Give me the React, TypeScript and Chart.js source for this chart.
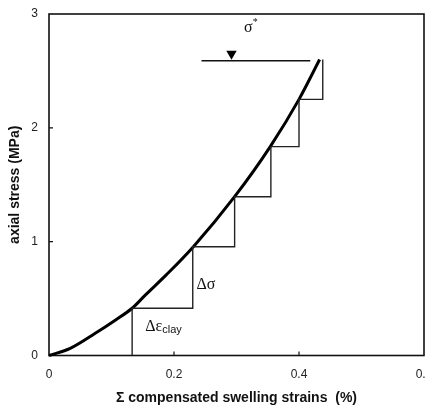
import { useEffect, useRef } from "react";
import { Chart, registerables } from "chart.js";

Chart.register(...registerables);

// Data
const curveStrain = [0, 0.034, 0.074, 0.106, 0.133, 0.154, 0.188, 0.231, 0.297, 0.354, 0.4, 0.433];
const curveStress = [0, 0.063, 0.195, 0.31, 0.415, 0.53, 0.71, 0.956, 1.395, 1.835, 2.25, 2.6];
const stepStrain = [0.133, 0.23, 0.297, 0.355, 0.4, 0.438];
const stepStress = [0.415, 0.956, 1.395, 1.835, 2.25, 2.6];
const sigmaStarStrain = [0.244, 0.418];
const sigmaStarStress = [2.59, 2.59];
const markerStrain = [0.292];
const markerStress = [2.65];
const xTicks = [0, 0.2, 0.4, 0.6];
const yTicks = [0, 1, 2, 3];
const innerXTicks = [0.2, 0.4];
const innerYTicks = [1, 2];

const labelSigmaStar = { x: 0.312, y: 2.88 };
const labelDeltaSigma = { x: 0.236, y: 0.62 };
const labelDeltaEps = { x: 0.154, y: 0.25 };

export default function App() {
  const ref = useRef<HTMLCanvasElement | null>(null);

  useEffect(() => {
    if (!ref.current) return;

    const curve = curveStrain.map((x, i) => ({ x, y: curveStress[i] }));
    const steps: { x: number; y: number }[] = [{ x: stepStrain[0], y: 0 }];
    for (let i = 0; i < stepStrain.length; i++) {
      steps.push({ x: stepStrain[i], y: stepStress[i] });
      if (i + 1 < stepStrain.length) steps.push({ x: stepStrain[i + 1], y: stepStress[i] });
    }
    const sigLine = sigmaStarStrain.map((x, i) => ({ x, y: sigmaStarStress[i] }));
    const marker = markerStrain.map((x, i) => ({ x, y: markerStress[i] }));

    const framePlugin = {
      id: "frame",
      beforeDatasetsDraw(chart: any) {
        const { ctx, chartArea: a, scales } = chart;
        ctx.save();
        ctx.strokeStyle = "#111";
        ctx.lineWidth = 1.6;
        ctx.strokeRect(a.left, a.top, a.right - a.left, a.bottom - a.top);
        ctx.lineWidth = 1.2;
        ctx.beginPath();
        innerXTicks.forEach((v) => {
          const px = scales.x.getPixelForValue(v);
          ctx.moveTo(px, a.bottom);
          ctx.lineTo(px, a.bottom - 4);
        });
        innerYTicks.forEach((v) => {
          const py = scales.y.getPixelForValue(v);
          ctx.moveTo(a.left, py);
          ctx.lineTo(a.left + 4, py);
        });
        ctx.stroke();
        ctx.restore();
      },
      afterDatasetsDraw(chart: any) {
        const { ctx, scales } = chart;
        const px = (v: number) => scales.x.getPixelForValue(v);
        const py = (v: number) => scales.y.getPixelForValue(v);
        ctx.save();
        ctx.fillStyle = "#111";
        ctx.textBaseline = "middle";
        ctx.textAlign = "left";
        // sigma*
        ctx.font = "16px 'Liberation Serif'";
        const sx = px(labelSigmaStar.x);
        const sy = py(labelSigmaStar.y);
        ctx.fillText("σ", sx, sy);
        const sw = ctx.measureText("σ").width;
        ctx.font = "10px 'Liberation Serif'";
        ctx.fillText("*", sx + sw, sy - 5);
        // delta sigma
        ctx.font = "16px 'Liberation Serif'";
        ctx.fillText("Δσ", px(labelDeltaSigma.x), py(labelDeltaSigma.y));
        // delta eps clay
        const ex = px(labelDeltaEps.x);
        const ey = py(labelDeltaEps.y);
        ctx.font = "16px 'Liberation Serif'";
        ctx.fillText("Δε", ex, ey);
        const ew = ctx.measureText("Δε").width;
        ctx.font = "11px 'Liberation Sans'";
        ctx.fillText("clay", ex + ew, ey + 3);
        ctx.restore();
      },
    };

    const chart = new Chart(ref.current, {
      type: "scatter",
      data: {
        datasets: [
          {
            data: steps,
            showLine: true,
            borderColor: "#222",
            borderWidth: 1.4,
            pointRadius: 0,
            fill: false,
            tension: 0,
          },
          {
            data: curve,
            showLine: true,
            borderColor: "#000",
            borderWidth: 3,
            pointRadius: 0,
            fill: false,
            cubicInterpolationMode: "monotone",
            clip: false,
          },
          {
            data: sigLine,
            showLine: true,
            borderColor: "#111",
            borderWidth: 1.5,
            pointRadius: 0,
            fill: false,
          },
          {
            data: marker,
            showLine: false,
            pointStyle: "triangle",
            rotation: 180,
            pointRadius: 6,
            backgroundColor: "#000",
            borderColor: "#000",
            borderWidth: 0,
          },
        ],
      } as any,
      options: {
        responsive: false,
        animation: false,
        devicePixelRatio: 1,
        layout: { padding: { left: 0, right: 26, top: 14, bottom: 0 } },
        plugins: {
          legend: { display: false },
          tooltip: { enabled: false },
        },
        scales: {
          x: {
            type: "linear",
            min: 0,
            max: 0.6,
            afterBuildTicks: (s: any) => {
              s.ticks = xTicks.map((v) => ({ value: v }));
            },
            afterFit: (s: any) => {
              s.height = 56.5;
              s.paddingLeft = 0;
              s.paddingRight = 0;
            },
            grid: { display: false, drawTicks: false },
            border: { display: false },
            ticks: {
              padding: 12,
              color: "#222",
              font: { family: "'Liberation Sans'", size: 12 },
              callback: (v: any) => String(Math.round(Number(v) * 10) / 10),
            },
            title: {
              display: true,
              text: "Σ compensated swelling strains  (%)",
              color: "#111",
              font: { family: "'Liberation Sans'", size: 14, weight: "bold" },
              padding: { top: 5, bottom: 5 },
            },
          },
          y: {
            type: "linear",
            min: 0,
            max: 3,
            afterBuildTicks: (s: any) => {
              s.ticks = yTicks.map((v) => ({ value: v }));
            },
            afterFit: (s: any) => {
              s.width = 49;
              s.paddingTop = 0;
              s.paddingBottom = 0;
            },
            grid: { display: false, drawTicks: false },
            border: { display: false },
            ticks: {
              padding: 11,
              color: "#222",
              font: { family: "'Liberation Sans'", size: 12 },
              callback: (v: any) => String(v),
            },
            title: {
              display: true,
              text: "axial stress (MPa)",
              color: "#111",
              font: { family: "'Liberation Sans'", size: 14, weight: "bold" },
              padding: { top: 7, bottom: 0 },
            },
          },
        },
      } as any,
      plugins: [framePlugin],
    });

    return () => chart.destroy();
  }, []);

  return (
    <div
      style={{
        position: "fixed",
        left: 0,
        top: 0,
        width: 426,
        height: 412,
        overflow: "hidden",
        background: "#fff",
      }}
    >
      <canvas ref={ref} width={450} height={412} style={{ display: "block" }} />
    </div>
  );
}
